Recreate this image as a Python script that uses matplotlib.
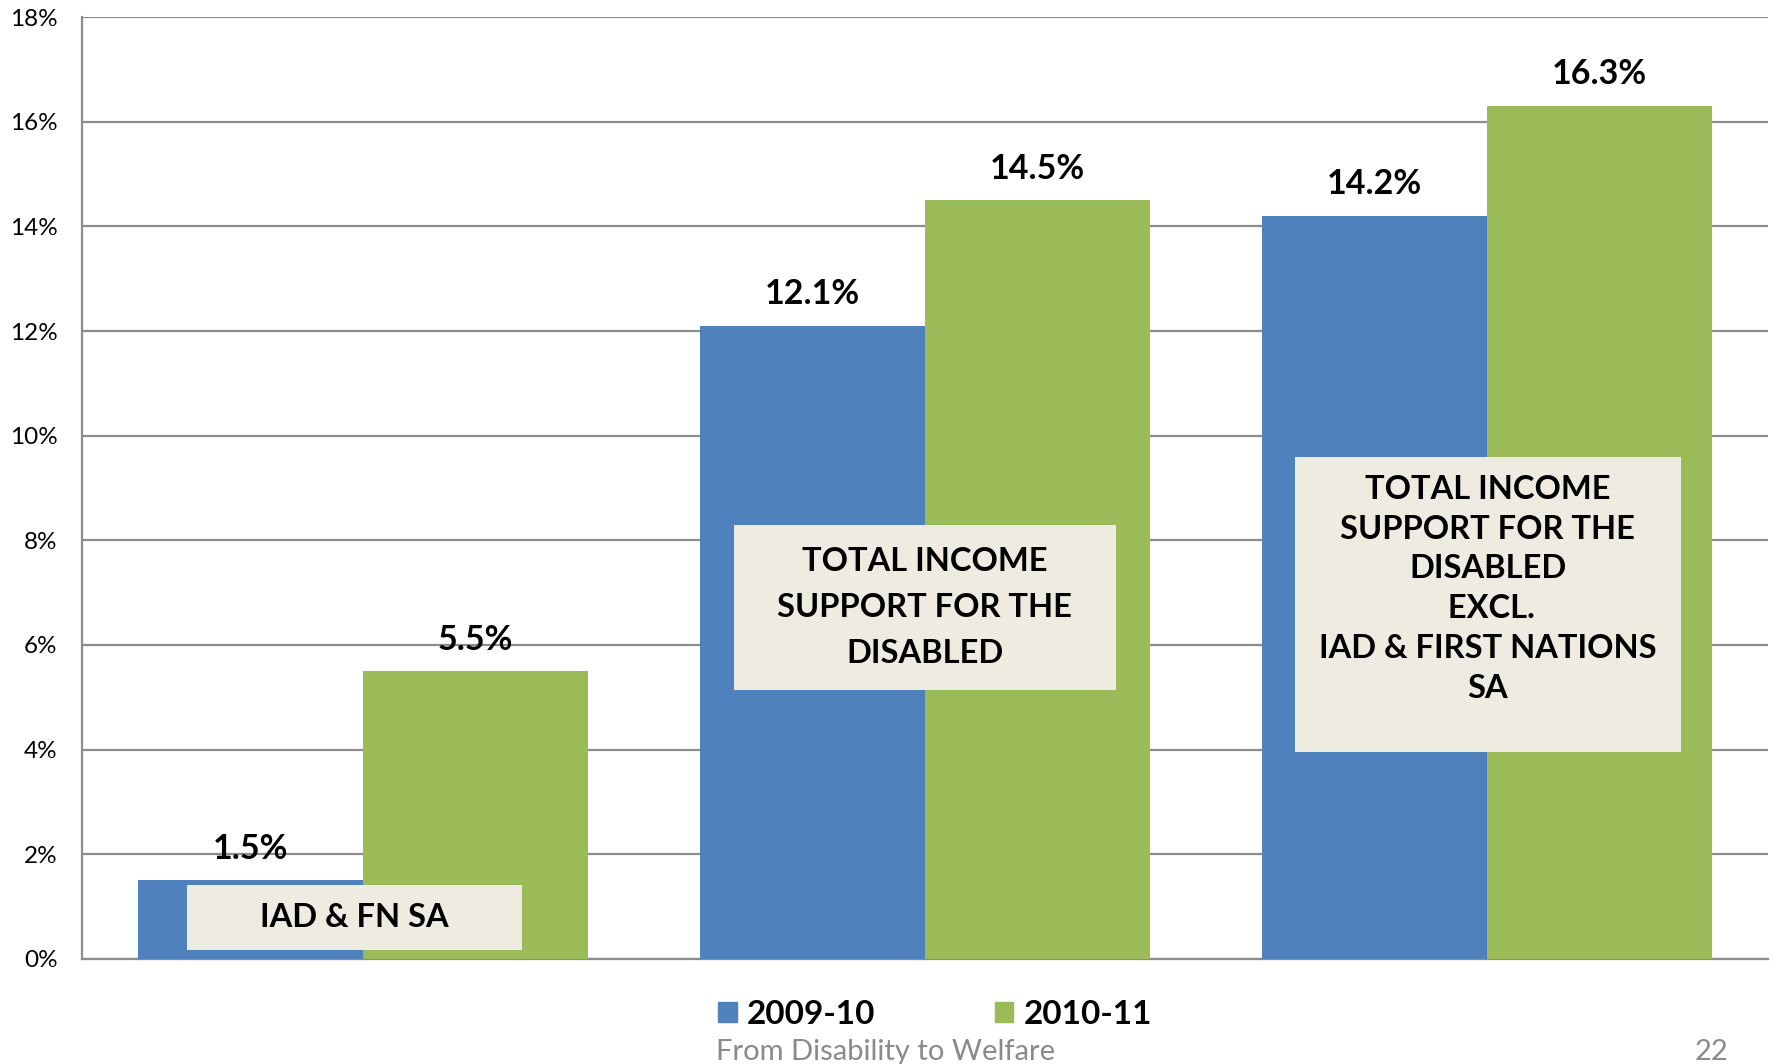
import numpy as np
import matplotlib
matplotlib.use("Agg")
import matplotlib.pyplot as plt
from matplotlib.patches import Rectangle

plt.rcParams['font.family'] = ['Lato', 'DejaVu Sans']

# data
categories = ["IAD & FN SA",
              "TOTAL INCOME\nSUPPORT FOR THE\nDISABLED",
              "TOTAL INCOME\nSUPPORT FOR THE\nDISABLED\n EXCL.\nIAD & FIRST NATIONS\nSA"]
series_names = ["2009-10", "2010-11"]
values_0910 = [1.5, 12.1, 14.2]
values_1011 = [5.5, 14.5, 16.3]
yticks = [0, 2, 4, 6, 8, 10, 12, 14, 16, 18]

blue = '#4F81BD'
green = '#9BBB59'
grid_gray = '#8C8C8C'
box_color = '#EEEBE0'

fig = plt.figure(figsize=(17.77, 10.64), dpi=100)
ax = fig.add_axes([0.0461, 0.0987, 0.9488, 0.8853])

x = np.arange(len(categories))
w = 0.4
b1 = ax.bar(x - w / 2, values_0910, w, color=blue, label=series_names[0], zorder=3)
b2 = ax.bar(x + w / 2, values_1011, w, color=green, label=series_names[1], zorder=3)

# value labels above bars
for bars, vals in [(b1, values_0910), (b2, values_1011)]:
    for rect, v in zip(bars, vals):
        ax.annotate(f"{v:.1f}%", (rect.get_x() + rect.get_width() / 2, v),
                    xytext=(0, 15.5), textcoords='offset points',
                    ha='center', va='baseline', fontsize=24.5, fontweight='bold',
                    color='black', zorder=5)

# category label boxes (x0, x1, y0, y1 in data units)
box_pos = [(-0.313, 0.283, 0.17, 1.41),
           (0.660, 1.340, 5.14, 8.29),
           (1.658, 2.345, 3.96, 9.59)]
line_sp = [1.2, 1.7, 1.45]
text_dy = [0.0, 0.0, 0.3]
for label, (x0, x1, y0, y1), ls, dy in zip(categories, box_pos, line_sp, text_dy):
    ax.add_patch(Rectangle((x0, y0), x1 - x0, y1 - y0, facecolor=box_color,
                           edgecolor='none', zorder=4))
    ax.text((x0 + x1) / 2, (y0 + y1) / 2 + dy, label, ha='center', va='center',
            multialignment='center', fontsize=23.5, fontweight='bold',
            linespacing=ls, zorder=5)

ax.set_xlim(-0.5, 2.5)
ax.set_ylim(0, 18)
ax.set_yticks(yticks)
ax.set_yticklabels([f"{t}%" for t in yticks], fontsize=17.5)
ax.set_xticks([])
ax.tick_params(axis='y', length=0, pad=17.5)
ax.yaxis.grid(True, color=grid_gray, linewidth=1.6, zorder=0)
ax.set_axisbelow(True)
for s in ['top', 'right']:
    ax.spines[s].set_visible(False)
for s in ['left', 'bottom']:
    ax.spines[s].set_color(grid_gray)
    ax.spines[s].set_linewidth(1.6)

# legend
handles = [Rectangle((0, 0), 1, 1, color=blue), Rectangle((0, 0), 1, 1, color=green)]
leg = fig.legend(handles, series_names, loc='center', bbox_to_anchor=(935 / 1777, 1 - 1014 / 1064),
                 ncol=2, frameon=False, prop={'size': 24, 'weight': 'bold'},
                 handlelength=0.55, handleheight=0.55, handletextpad=0.3,
                 columnspacing=3.6)

# footer
fig.text(716 / 1777, 1 - 1052 / 1064, "From Disability to Welfare", fontsize=21,
         color='#8A8A8A', ha='left', va='center')
fig.text(1728 / 1777, 1 - 1052 / 1064, "22", fontsize=21,
         color='#8A8A8A', ha='right', va='center')

fig.savefig("out.png", dpi=100)
